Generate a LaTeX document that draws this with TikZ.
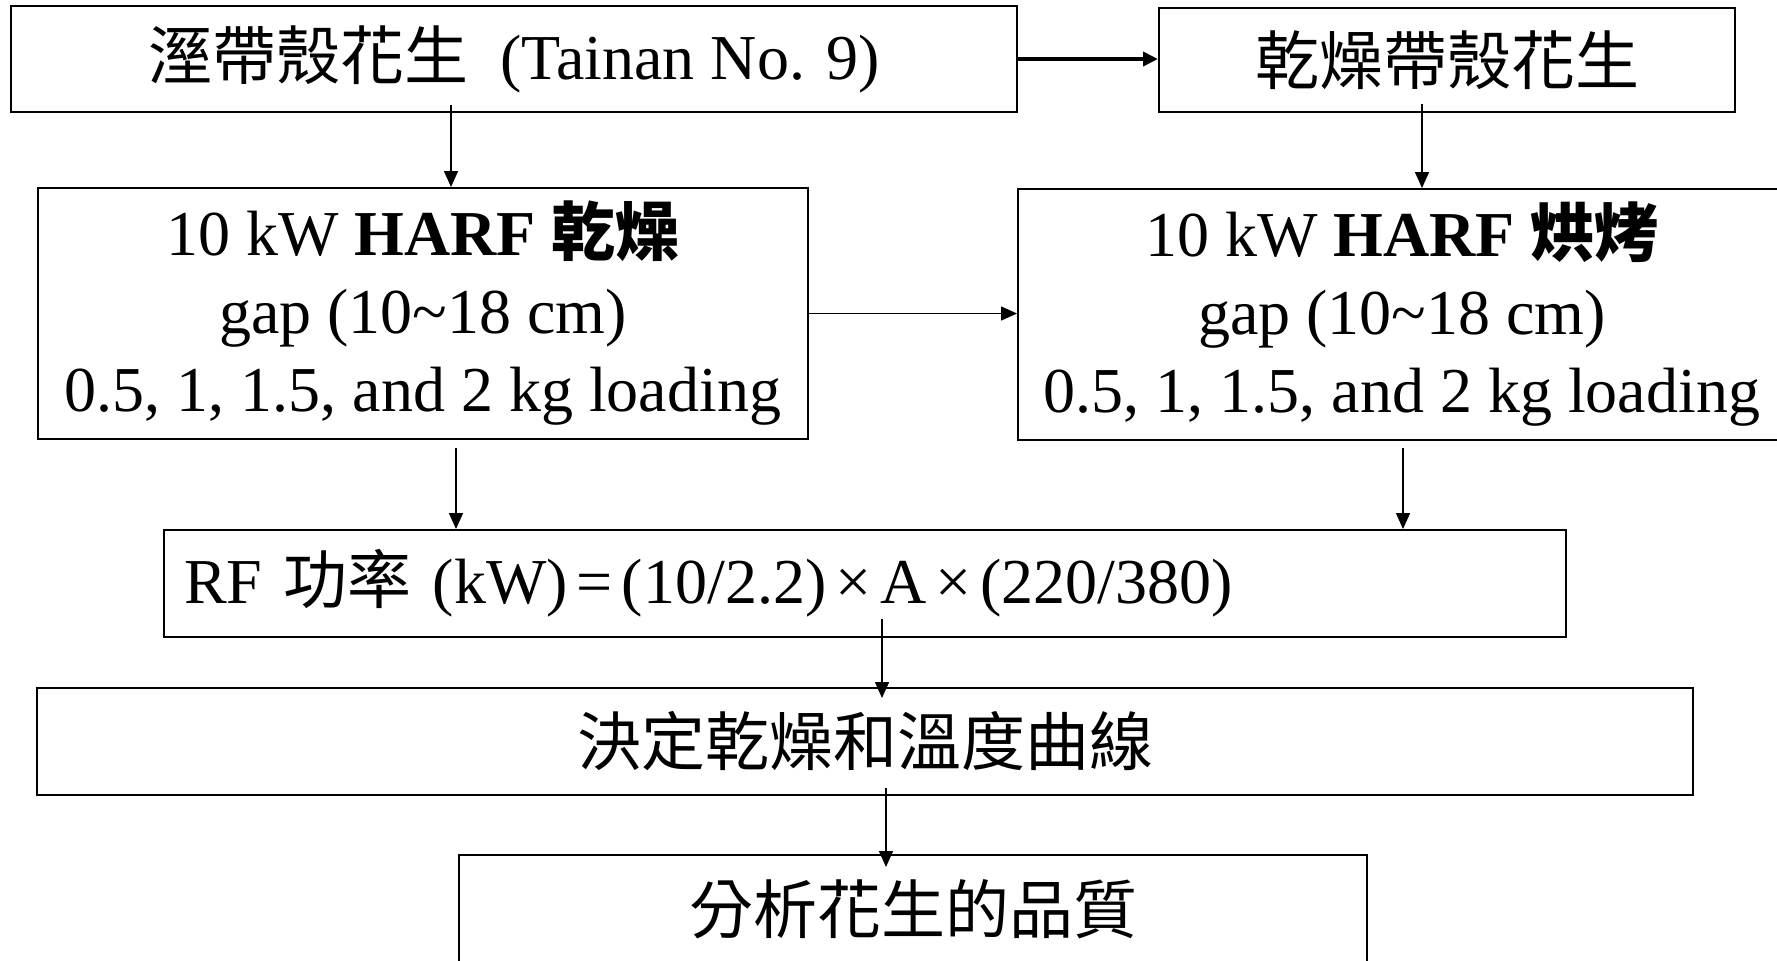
\documentclass[tikz,border=0pt]{standalone}
\usepackage{fontspec}
\setmainfont{Liberation Serif}
\newfontfamily\cjk{Noto Sans CJK TC}
\usetikzlibrary{arrows.meta,calc}
\newcommand{\tsp}{\hspace{0.14em}}
\begin{document}
\begin{tikzpicture}[x=0.5pt,y=-0.5pt,
  box/.style={draw,line width=1pt,inner sep=0pt,align=center,font=\fontsize{32}{39}\selectfont},
  arr/.style={-{Triangle[length=8pt,width=7pt]},line width=0.75pt},
  thickarr/.style={-{Triangle[length=7.5pt,width=7pt]},line width=2pt}]
\useasboundingbox (0,0) rectangle (1777,960);
\clip (0,0) rectangle (1777,960);
\node[box,minimum width=503pt,minimum height=53pt] (b1) at (514,59) {{\cjk 溼帶殼花生}~~(Tainan No. 9)};
\node[box,minimum width=288pt,minimum height=52pt] (b2) at (1447,60) {\cjk 乾燥帶殼花生};
\node[box,minimum width=385pt,minimum height=125.5pt] (b3) at (423,313.5) {10 kW \textbf{HARF {\cjk 乾燥}}\\gap (10\textasciitilde 18 cm)\\0.5, 1, 1.5, and 2 kg loading};
\node[box,minimum width=384pt,minimum height=125.5pt] (b4) at (1402,314.5) {10 kW \textbf{HARF {\cjk 烘烤}}\\gap (10\textasciitilde 18 cm)\\0.5, 1, 1.5, and 2 kg loading};
\node[box,minimum height=53.5pt,inner xsep=10pt,text width=681pt,align=left] (b5) at (865,583.5) {RF {\cjk 功率} (kW)\tsp=\tsp(10/2.2)\tsp×\tsp A\tsp×\tsp(220/380)};
\node[box,minimum width=828pt,minimum height=53.5pt] (b6) at (865,741.5) {\cjk 決定乾燥和溫度曲線};
\node[box,minimum width=454pt,minimum height=54.5pt] (b7) at (913,909.5) {\cjk 分析花生的品質};
\coordinate (xa) at (451,0);
\coordinate (xb) at (1422,0);
\coordinate (xc) at (456,0);
\coordinate (xd) at (1403,0);
\coordinate (xe) at (882,0);
\coordinate (xf) at (886,0);
\draw[thickarr] (b1.east) -- (b1.east -| b2.west);
\draw[arr] (b3.east) -- (b3.east -| b4.west);
\draw[arr] ($(b1.south -| xa)+(0,-8)$) -- (b3.north -| xa);
\draw[arr] ($(b2.south -| xb)+(0,-9)$) -- (b4.north -| xb);
\draw[arr] ($(b3.south -| xc)+(0,8)$) -- (b5.north -| xc);
\draw[arr] ($(b4.south -| xd)+(0,7)$) -- (b5.north -| xd);
\draw[arr] ($(b5.south -| xe)+(0,-19)$) -- ($(b6.north -| xe)+(0,11)$);
\draw[arr] ($(b6.south -| xf)+(0,-8)$) -- ($(b7.north -| xf)+(0,13)$);
\end{tikzpicture}
\end{document}
